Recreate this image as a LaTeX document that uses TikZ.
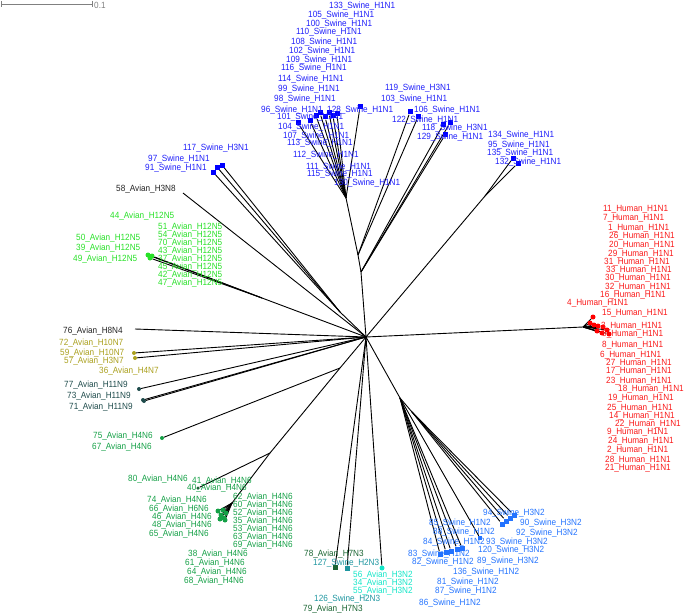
\documentclass[tikz,border=0pt]{standalone}
\usepackage{fontspec}
\setmainfont{Liberation Sans}[FakeStretch=0.91]
\pgfdeclarelayer{bg}
\pgfsetlayers{bg,main}
\definecolor{swblue}{RGB}{30,30,250}
\definecolor{hured}{RGB}{250,25,25}
\definecolor{hgreen}{RGB}{40,225,40}
\definecolor{fgreen}{RGB}{20,160,70}
\definecolor{olive}{RGB}{170,160,30}
\definecolor{slate}{RGB}{30,75,75}
\definecolor{dgreen}{RGB}{25,100,50}
\definecolor{teal2}{RGB}{30,150,160}
\definecolor{cyan2}{RGB}{20,230,200}
\definecolor{ltblue}{RGB}{35,115,255}
\definecolor{dkgray}{RGB}{35,35,35}
\begin{document}
\begin{tikzpicture}[x=1pt,y=-1pt,
  lab/.style={font=\fontsize{9}{10}\selectfont, anchor=west, inner sep=0pt},
  br/.style={draw=black, line width=0.9pt},
  sqm/.style={rectangle, minimum size=5pt, inner sep=0pt},
  dotm/.style={circle, minimum size=5pt, inner sep=0pt}]
\useasboundingbox (0,0) rectangle (685,615);
% scale bar
\coordinate (sb1) at (1,4); \coordinate (sb2) at (92,4);
\coordinate (sb1t) at (1,1); \coordinate (sb1b) at (1,7);
\coordinate (sb2t) at (92,1); \coordinate (sb2b) at (92,7);
\draw[gray, line width=0.7pt] (sb1) -- (sb2) (sb1t) -- (sb1b) (sb2t) -- (sb2b);
\node[lab, text=gray] (sbl) at (94,5) {0.1};
% internal nodes
\coordinate (C) at (366,337);
\coordinate (hs) at (583,327);
\coordinate (s0) at (361,272);
\coordinate (s2) at (358,255);
\coordinate (s1) at (346,198);
\coordinate (r1) at (485,196);
\coordinate (l1) at (340,312);
\coordinate (g1) at (262,298);
\coordinate (h0) at (340,368);
\coordinate (h1) at (270,453);
\coordinate (h2) at (232,503);
\coordinate (j1) at (400,398);
\coordinate (j3) at (412,412);
\coordinate (a58) at (183,193);
\coordinate (a76) at (135,329);
% ---------- markers ----------
\foreach \i/\x/\y in {a/593/317, b/590/323, c/594/325, d/598/326, e/603/327, f/607/330, g/597/331, h/602/333, k/609/334}
  \node[dotm, fill=red] (H\i) at (\x,\y) {};
\foreach \i/\x/\y in {a/298/123, b/310/121, c/316/116, d/320/113, e/325/117, f/329/113, g/333/116, h/337/114, k/360/107}
  \node[sqm, fill=blue] (U\i) at (\x,\y) {};
\foreach \i/\x/\y in {a/410/112, b/418/117}
  \node[sqm, fill=blue] (V\i) at (\x,\y) {};
\foreach \i/\x/\y in {a/443/125, b/450/123, c/445/135}
  \node[sqm, fill=blue] (W\i) at (\x,\y) {};
\foreach \i/\x/\y in {a/513/158, b/518/163}
  \node[sqm, fill=blue] (R\i) at (\x,\y) {};
\foreach \i/\x/\y in {a/213/172, b/217/167, c/222/165}
  \node[sqm, fill=blue] (Q\i) at (\x,\y) {};
\foreach \i/\x/\y in {a/148/255, b/150/258, c/152/256}
  \node[dotm, fill=hgreen] (G\i) at (\x,\y) {};
\foreach \i/\x/\y in {a/134/353, b/135/358}
  \node[dotm, minimum size=4pt, fill=olive] (O\i) at (\x,\y) {};
\node[dotm, minimum size=4pt, fill=slate] (Na) at (139,389) {};
\node[dotm, minimum size=4pt, fill=slate] (Nb) at (143,400) {};
\node[dotm, minimum size=4pt, fill=slate] (Nc) at (144,401) {};
\node[dotm, minimum size=4pt, fill=fgreen] (D75) at (162,438) {};
\node[dotm, minimum size=3.5pt, fill=dgreen] (D40) at (198,488) {};
\foreach \i/\x/\y in {a/218/511, b/221/515, c/224/518, d/220/519, e/226/513, f/223/510, g/225/520}
  \node[dotm, fill=fgreen] (F\i) at (\x,\y) {};
\node[sqm, fill=dgreen] (M78) at (335,567) {};
\node[sqm, fill=teal2] (M127) at (347,568) {};
\node[dotm, fill=cyan2] (M56) at (382,568) {};
\foreach \i/\x/\y in {a/440/554, b/446/552, c/451/551, d/457/549, e/462/548}
  \node[sqm, fill=ltblue] (P\i) at (\x,\y) {};
\node[sqm, minimum size=4pt, fill=ltblue] (Pf) at (480,538) {};
\foreach \i/\x/\y in {a/502/524, b/506/521, c/510/518, d/514/515}
  \node[sqm, fill=ltblue] (T\i) at (\x,\y) {};
% ---------- branches ----------
\begin{pgfonlayer}{bg}
\draw[br] (C) -- (hs);
\foreach \i in {a,b,c,d,e,f,g,h,k} \draw[br] (hs) -- (H\i);
\draw[br] (C) -- (s0) -- (s2) -- (s1);
\foreach \i in {a,b,c,d,e,f,g,h,k} \draw[br] (s1) -- (U\i);
\foreach \i in {a,b} \draw[br] (s2) -- (V\i);
\foreach \i in {a,b,c} \draw[br] (s0) -- (W\i);
\draw[br] (C) -- (r1);
\foreach \i in {a,b} \draw[br] (r1) -- (R\i);
\draw[br] (C) -- (l1);
\foreach \i in {a,b,c} \draw[br] (l1) -- (Q\i);
\draw[br] (C) -- (a58);
\draw[br] (C) -- (g1);
\foreach \i in {a,b,c} \draw[br] (g1) -- (G\i);
\draw[br] (C) -- (a76);
\foreach \i in {a,b} \draw[br] (C) -- (O\i);
\draw[br] (C) -- (Na); \draw[br] (C) -- (Nb); \draw[br] (C) -- (Nc);
\draw[br] (C) -- (h0) -- (h1) -- (h2);
\draw[br] (h0) -- (D75);
\draw[br] (h1) -- (D40);
\foreach \i in {a,b,c,d,e,f,g} \draw[br] (h2) -- (F\i);
\draw[br] (C) -- (M78); \draw[br] (C) -- (M127); \draw[br] (C) -- (M56);
\draw[br] (C) -- (j1) -- (j3);
\foreach \i in {a,b,c,d,e} \draw[br] (j1) -- (P\i);
\draw[br] (j1) -- (Pf);
\foreach \i in {a,b,c,d} \draw[br] (j3) -- (T\i);
\end{pgfonlayer}
% ---------- labels ----------
\foreach \n/\x/\y/\s in {133/329/6/H1N1, 105/308/15/H1N1, 100/306/24/H1N1, 110/296/32/H1N1,
  108/291/42/H1N1, 102/289/51/H1N1, 109/286/60/H1N1, 116/281/68/H1N1, 114/278/79/H1N1,
  99/278/89/H1N1, 98/274/99/H1N1, 119/385/88/H3N1, 103/381/99/H1N1, 96/261/110/H1N1,
  128/327/110/H1N1, 101/277/117/H1N1, 104/278/127/H1N1, 107/283/136/H1N1, 113/287/143/H1N1,
  112/293/155/H1N1, 111/306/167/H1N1, 115/307/174/H1N1, 130/334/183/H1N1, 106/414/110/H1N1,
  122/392/120/H1N1, 118/422/128/H3N1, 129/417/137/H1N1, 134/488/135/H1N1, 95/488/145/H1N1,
  135/487/153/H1N1, 132/495/162/H1N1, 117/183/148/H3N1, 97/148/159/H1N1, 91/145/168/H1N1}
  \node[lab, text=swblue] (L\n) at (\x,\y) {\n\_Swine\_\s};
\foreach \n/\x/\y in {11/603/209, 7/603/218, 1/608/228, 26/609/236, 20/609/245, 29/608/254,
  31/604/262, 33/606/270, 30/605/278, 32/605/287, 16/600/295, 4/567/303, 15/602/313,
  3/601/326, 5/602/334, 8/602/345, 6/600/355, 27/606/363, 17/606/371, 23/606/381,
  18/618/389, 19/608/398, 25/607/408, 14/609/416, 22/615/424, 9/607/432, 24/608/441,
  2/607/450, 28/605/460, 21/605/468}
  \node[lab, text=hured] (L\n) at (\x,\y) {\n\_Human\_H1N1};
\foreach \n/\x/\y in {44/110/216, 51/158/227, 54/158/235, 70/158/243, 43/158/251, 37/158/259,
  45/158/267, 42/158/275, 47/158/283, 50/76/238, 39/76/248, 49/73/259}
  \node[lab, text=hgreen] (L\n) at (\x,\y) {\n\_Avian\_H12N5};
\node[lab, text=dkgray] (L58) at (116,189) {58\_Avian\_H3N8};
\node[lab, text=dkgray] (L76) at (63,331) {76\_Avian\_H8N4};
\foreach \n/\x/\y/\s in {72/59/343/H10N7, 59/60/353/H10N7, 57/64/361/H3N7, 36/99/371/H4N7}
  \node[lab, text=olive] (L\n) at (\x,\y) {\n\_Avian\_\s};
\foreach \n/\x/\y in {77/64/385, 73/67/396, 71/69/407}
  \node[lab, text=slate] (L\n) at (\x,\y) {\n\_Avian\_H11N9};
\foreach \n/\x/\y/\s in {75/93/436/H4N6, 67/92/447/H4N6, 80/128/479/H4N6, 41/192/481/H4N6,
  40/187/488/H4N6, 74/147/500/H4N6, 66/149/509/H6N6, 46/152/517/H4N6, 48/152/525/H4N6,
  65/149/534/H4N6, 62/233/497/H4N6, 60/233/505/H4N6, 52/233/513/H4N6, 35/233/521/H4N6,
  53/233/529/H4N6, 63/233/537/H4N6, 69/233/545/H4N6, 38/188/554/H4N6, 61/185/563/H4N6,
  64/187/572/H4N6, 68/184/581/H4N6}
  \node[lab, text=fgreen] (L\n) at (\x,\y) {\n\_Avian\_\s};
\node[lab, text=dgreen] (L78) at (304,554) {78\_Avian\_H7N3};
\node[lab, text=dgreen] (L79) at (303,609) {79\_Avian\_H7N3};
\node[lab, text=teal2] (L127) at (313,563) {127\_Swine\_H2N3};
\node[lab, text=teal2] (L126) at (314,599) {126\_Swine\_H2N3};
\foreach \n/\x/\y in {56/353/575, 34/353/583, 55/353/591}
  \node[lab, text=cyan2] (L\n) at (\x,\y) {\n\_Avian\_H3N2};
\foreach \n/\x/\y/\s in {94/483/513/H3N2, 85/429/523/H1N2, 90/520/523/H3N2, 88/433/532/H1N2,
  92/516/533/H3N2, 84/423/542/H1N2, 93/486/542/H3N2, 120/478/550/H3N2, 83/408/554/H1N2,
  82/412/562/H1N2, 89/477/561/H3N2, 136/453/572/H1N2, 81/437/582/H1N2, 87/435/591/H1N2,
  86/419/603/H1N2}
  \node[lab, text=ltblue] (L\n) at (\x,\y) {\n\_Swine\_\s};
\end{tikzpicture}
\end{document}
